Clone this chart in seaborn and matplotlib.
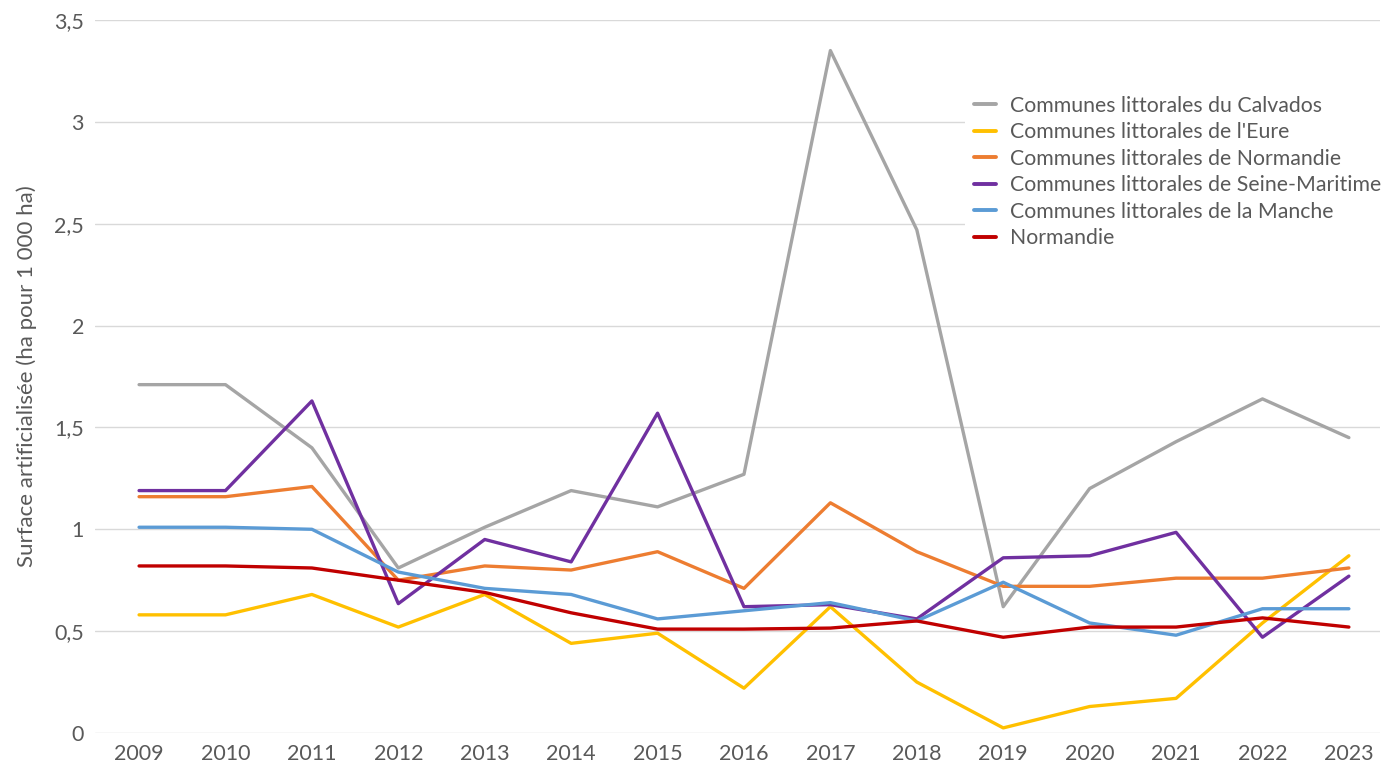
import numpy as np
import pandas as pd
import matplotlib.pyplot as plt
import seaborn as sns

years = list(range(2009, 2024))

calvados = [1.71, 1.71, 1.40, 0.81, 1.01, 1.19, 1.11, 1.27, 3.35, 2.47, 0.62, 1.20, 1.43, 1.64, 1.45]
eure = [0.58, 0.58, 0.68, 0.52, 0.68, 0.44, 0.49, 0.22, 0.62, 0.25, 0.025, 0.13, 0.17, 0.54, 0.87]
norm_litt = [1.16, 1.16, 1.21, 0.75, 0.82, 0.80, 0.89, 0.71, 1.13, 0.89, 0.72, 0.72, 0.76, 0.76, 0.81]
seine_mar = [1.19, 1.19, 1.63, 0.635, 0.95, 0.84, 1.57, 0.62, 0.63, 0.56, 0.86, 0.87, 0.985, 0.47, 0.77]
manche = [1.01, 1.01, 1.00, 0.79, 0.71, 0.68, 0.56, 0.60, 0.64, 0.55, 0.74, 0.54, 0.48, 0.61, 0.61]
normandie = [0.82, 0.82, 0.81, 0.75, 0.69, 0.59, 0.51, 0.51, 0.515, 0.55, 0.47, 0.52, 0.52, 0.565, 0.52]

series = {
    "Communes littorales du Calvados": calvados,
    "Communes littorales de l'Eure": eure,
    "Communes littorales de Normandie": norm_litt,
    "Communes littorales de Seine-Maritime": seine_mar,
    "Communes littorales de la Manche": manche,
    "Normandie": normandie,
}
colors = ["#a5a5a5", "#ffc000", "#ed7d31", "#7030a0", "#5b9bd5", "#c00000"]

rows = []
for name, vals in series.items():
    for y, v in zip(years, vals):
        rows.append({"annee": y, "valeur": v, "serie": name})
df = pd.DataFrame(rows)

sns.set_style("white")
plt.rcParams['font.family'] = ['Lato', 'DejaVu Sans']

fig = plt.figure(figsize=(13.84, 7.68), dpi=100)
ax = fig.add_axes([95 / 1384, 35 / 768, 1285 / 1384, 713 / 768])

sns.lineplot(data=df, x="annee", y="valeur", hue="serie",
             palette=dict(zip(series.keys(), colors)), linewidth=2.4,
             ax=ax, hue_order=list(series.keys()))

ax.set_xlim(2008.49, 2023.36)
ax.set_ylim(0, 3.5)
ax.set_xticks(years)
ax.set_xticklabels([str(y) for y in years])
yt = [0, 0.5, 1, 1.5, 2, 2.5, 3, 3.5]
ax.set_yticks(yt)
ax.set_yticklabels([("%g" % t).replace(".", ",") for t in yt])
ax.tick_params(axis="both", labelsize=15.5, labelcolor="#595959", length=0, pad=8)
ax.grid(axis="y", color="#d9d9d9", linewidth=1)
ax.set_axisbelow(True)
for s in ax.spines.values():
    s.set_visible(False)
ax.set_xlabel("")
ax.set_ylabel("Surface artificialisée (ha pour 1 000 ha)", fontsize=16, color="#595959", labelpad=12)

leg = ax.legend(loc="upper left", bbox_to_anchor=(965 / 1384, 1 - 87 / 768),
                bbox_transform=fig.transFigure, frameon=True, fontsize=15.3,
                handlelength=1.08, handletextpad=0.66, labelspacing=0.31,
                borderpad=0.4, borderaxespad=0)
leg.get_frame().set_facecolor("white")
leg.get_frame().set_edgecolor("none")
leg.get_frame().set_alpha(1)
for t in leg.get_texts():
    t.set_color("#595959")
for l in leg.get_lines():
    l.set_linewidth(2.8)

fig.savefig("out.png", dpi=100)
